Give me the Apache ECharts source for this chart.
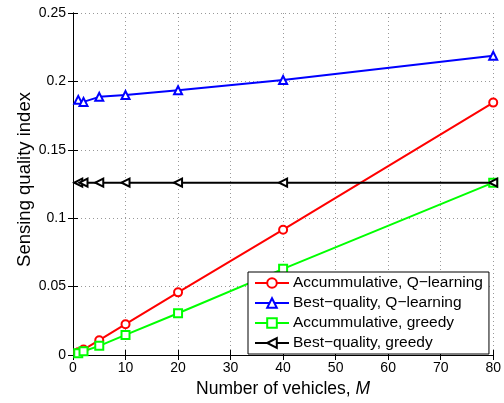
<!DOCTYPE html>
<html><head><meta charset="utf-8">
<script src="https://cdn.jsdelivr.net/npm/echarts@6/dist/echarts.min.js"></script>
<style>html,body{margin:0;padding:0;background:#fff}#c{width:504px;height:403px}</style>
</head><body><div id="c"></div>
<script>
const xValues = [1, 2, 5, 10, 20, 40, 80];
const accQ = [0.002, 0.004, 0.0108, 0.0225, 0.0458, 0.0916, 0.1845];
const bestQ = [0.1865, 0.185, 0.1887, 0.190, 0.1935, 0.201, 0.2188];
const accGreedy = [0.0013, 0.0027, 0.0067, 0.0147, 0.0305, 0.063, 0.126];
const bestGreedy = [0.126, 0.126, 0.126, 0.126, 0.126, 0.126, 0.126];
const names = ['Accummulative, Q\u2212learning', 'Best\u2212quality, Q\u2212learning', 'Accummulative, greedy', 'Best\u2212quality, greedy'];

const pairs = a => xValues.map((x, i) => [x, a[i]]);
const font = 'Liberation Sans, Arial, Helvetica, sans-serif';
const chart = echarts.init(document.getElementById('c'));
const tick = {show: true, inside: true, length: 5, lineStyle: {color: '#000'}};
const grid = {left: 73, right: 10, top: 13, bottom: 47};
function ser(name, data, color, symbol, rot) {
  return {name, type: 'line', data: pairs(data), symbol, symbolSize: 8, symbolRotate: rot || 0,
    lineStyle: {color, width: 2}, itemStyle: {color, borderColor: color, borderWidth: 1.5},
    showAllSymbol: true, animation: false, z: 3};
}
chart.setOption({
  animation: false,
  grid,
  textStyle: {fontFamily: font},
  legend: {
    orient: 'vertical', left: 248, top: 272, width: 240,
    backgroundColor: '#fff', borderColor: '#000', borderWidth: 1, padding: [3, 6, 3, 6],
    itemWidth: 34, itemHeight: 12, itemGap: 4,
    textStyle: {fontSize: 15.5, color: '#000', fontFamily: font, padding: [0, 0, 0, -1]}
  },
  xAxis: [{
    type: 'value', min: 0, max: 80, interval: 10,
    name: 'Number of vehicles, {i|M}', nameLocation: 'middle', nameGap: 25, nameMoveOverlap: false,
    nameTextStyle: {fontSize: 17.5, color: '#000', fontFamily: font, rich: {i: {fontStyle: 'italic', fontSize: 17.5, fontFamily: font}}},
    axisLine: {show: true, lineStyle: {color: '#000', width: 1}},
    axisTick: tick, axisLabel: {fontSize: 14, color: '#000', margin: 6},
    splitLine: {show: true, lineStyle: {color: '#999', type: [1, 3], width: 1}}
  }, {
    type: 'value', min: 0, max: 80, interval: 10, position: 'top',
    axisLine: {show: true, lineStyle: {color: '#000'}}, axisTick: tick,
    axisLabel: {show: false}, splitLine: {show: false}
  }],
  yAxis: [{
    type: 'value', min: 0, max: 0.25, interval: 0.05,
    name: 'Sensing quality index', nameLocation: 'middle', nameGap: 39, nameMoveOverlap: false,
    nameTextStyle: {fontSize: 18.5, color: '#000', fontFamily: font, padding: [0, 0, 0, 9]},
    axisLine: {show: true, lineStyle: {color: '#000'}},
    axisTick: tick, axisLabel: {fontSize: 14, color: '#000', margin: 7, formatter: v => String(+v.toFixed(2))},
    splitLine: {show: true, lineStyle: {color: '#999', type: [1, 3], width: 1}}
  }, {
    type: 'value', min: 0, max: 0.25, interval: 0.05, position: 'right',
    axisLine: {show: true, lineStyle: {color: '#000'}}, axisTick: tick,
    axisLabel: {show: false}, splitLine: {show: false}
  }],
  series: [
    ser(names[0], accQ, '#ff0000', 'emptyCircle'),
    ser(names[1], bestQ, '#0000ff', 'emptyTriangle'),
    ser(names[2], accGreedy, '#00ff00', 'emptyRect'),
    ser(names[3], bestGreedy, '#000000', 'emptyTriangle', 90)
  ]
});
</script></body></html>
